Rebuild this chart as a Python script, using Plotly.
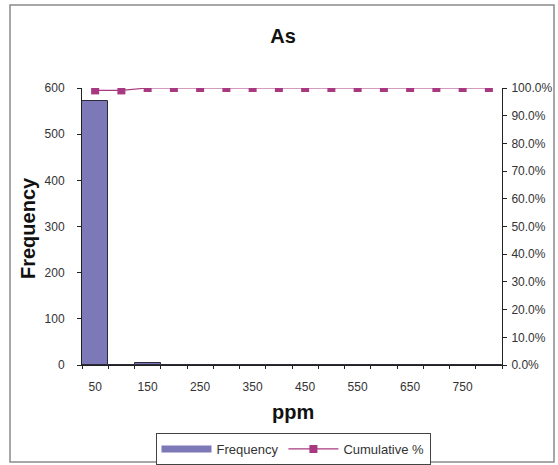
import plotly.graph_objects as go

# Histogram bins (ppm upper limits), counts and cumulative percentage
bins = [50, 100, 150, 200, 250, 300, 350, 400, 450, 500, 550, 600, 650, 700, 750, 800]
frequency = [571, 0, 5, 0, 0, 0, 0, 0, 0, 0, 0, 0, 0, 0, 0, 0]
cumulative_pct = [0.9913, 0.9913, 1.0, 1.0, 1.0, 1.0, 1.0, 1.0, 1.0, 1.0, 1.0, 1.0, 1.0, 1.0, 1.0, 1.0]
x_tick_labels = [50, 150, 250, 350, 450, 550, 650, 750]

FONT = "Liberation Sans, Arial, sans-serif"
BAR_FILL = "#7d78b8"
BAR_EDGE = "#2a2a3a"
LINE_COL = "#a8387f"

fig = go.Figure()
fig.add_trace(go.Bar(
    x=bins, y=frequency, name="Frequency", width=50,
    marker=dict(color=BAR_FILL, line=dict(color=BAR_EDGE, width=1)),
    yaxis="y", showlegend=False,
))
# wide legend swatch for the bar series
fig.add_trace(go.Scatter(
    x=[None], y=[None], name="Frequency", mode="lines",
    line=dict(color=BAR_FILL, width=7), yaxis="y",
))
fig.add_trace(go.Scatter(
    x=bins, y=cumulative_pct, name="Cumulative %", mode="lines+markers",
    line=dict(color=LINE_COL, width=1.2),
    marker=dict(symbol="square", size=8, color=LINE_COL),
    yaxis="y2",
))

# category boundaries for x tick marks
boundaries = [b - 25 for b in bins] + [bins[-1] + 25]

W, H = 558, 465
L, R, T, B = 82, 56, 88, 100
pw, ph = W - L - R, H - T - B

def px_x(x):
    return (x - L) / pw

def px_y(y):
    return (H - B - y) / ph

TICK_FONT = dict(size=12, color="#333333")
TITLE_FONT = dict(family=FONT, size=20, color="#111111")

fig.update_layout(
    width=W, height=H,
    margin=dict(l=L, r=R, t=T, b=B, autoexpand=False),
    paper_bgcolor="white", plot_bgcolor="white",
    font=dict(family=FONT, size=12, color="#333333"),
    bargap=0,
    showlegend=True,
    title=dict(text="<b>As</b>", x=283 / W, xanchor="center", y=1 - 36 / H, yanchor="middle",
               font=TITLE_FONT),
    xaxis=dict(
        range=[25, 825], tickmode="array", tickvals=x_tick_labels,
        ticktext=[str(v) for v in x_tick_labels], ticks="", ticklabelstandoff=11,
        showline=True, linecolor="#222222", linewidth=1, showgrid=False, zeroline=False,
        minor=dict(tickmode="array", tickvals=boundaries, ticks="outside", ticklen=3,
                   tickcolor="#222222", showgrid=False),
        tickfont=TICK_FONT,
    ),
    yaxis=dict(
        range=[0, 600], dtick=100, ticks="outside", ticklen=4, tickcolor="#222222",
        showline=True, linecolor="#222222", linewidth=1, showgrid=False, zeroline=False,
        ticklabelstandoff=10, tickfont=TICK_FONT,
    ),
    yaxis2=dict(
        range=[0, 1], dtick=0.1, tickformat=".1%", overlaying="y", side="right",
        ticks="outside", ticklen=4, tickcolor="#222222",
        showline=True, linecolor="#222222", linewidth=1, showgrid=False, zeroline=False,
        ticklabelstandoff=2, tickfont=TICK_FONT,
    ),
    legend=dict(
        orientation="h", x=px_x(293), xanchor="center", y=px_y(433), yanchor="top",
        bordercolor="#444444", borderwidth=1, bgcolor="white",
        font=dict(family=FONT, size=13, color="#333333"), itemwidth=50,
        traceorder="normal",
    ),
    annotations=[
        dict(text="<b>Frequency</b>", textangle=-90, xref="paper", yref="paper",
             x=px_x(28), y=px_y(228), xanchor="center", yanchor="middle", showarrow=False,
             font=TITLE_FONT),
        dict(text="<b>ppm</b>", xref="paper", yref="paper",
             x=px_x(293), y=px_y(412), xanchor="center", yanchor="middle", showarrow=False,
             font=TITLE_FONT),
    ],
    shapes=[
        dict(type="rect", xref="paper", yref="paper",
             x0=px_x(10), x1=px_x(554), y0=px_y(462), y1=px_y(5),
             line=dict(color="#8a8a8a", width=1.5), fillcolor="rgba(0,0,0,0)", layer="below"),
    ],
)

fig.write_html("out.html")
